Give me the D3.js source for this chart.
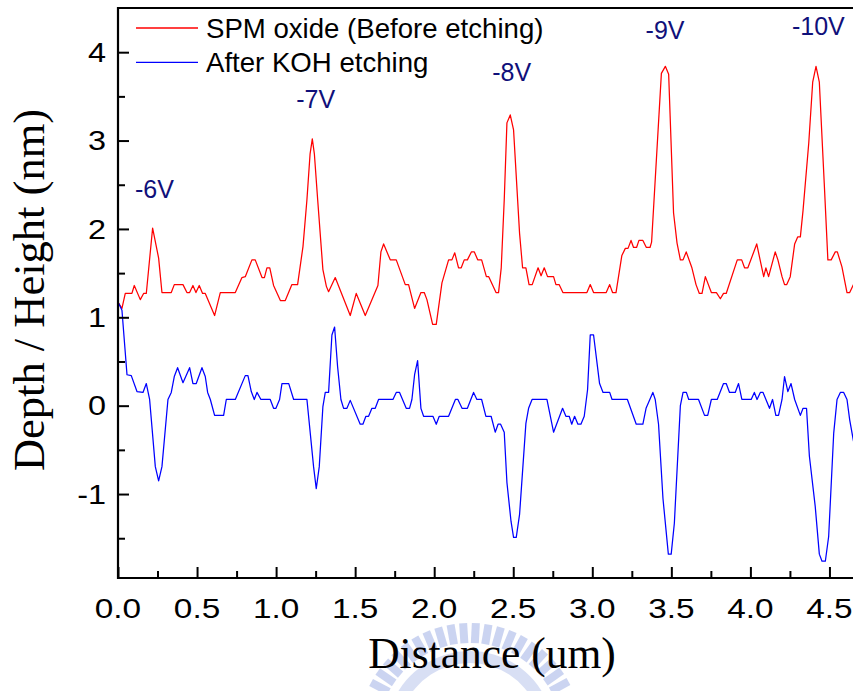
<!DOCTYPE html>
<html><head><meta charset="utf-8">
<script src="https://cdn.jsdelivr.net/npm/d3@7"></script>
<style>html,body{margin:0;padding:0;background:#fff;overflow:hidden}</style>
</head><body><svg id="c" width="853" height="691"></svg>
<script>
// ---- data ----
const spmDistance = [0.004,0.025,0.046,0.088,0.103,0.141,0.162,0.179,0.219,0.257,0.278,0.337,0.356,0.411,0.436,0.453,0.474,0.493,0.514,0.535,0.552,0.611,0.647,0.742,0.784,0.805,0.847,0.868,0.911,0.926,0.942,0.960,0.984,1.027,1.058,1.100,1.136,1.170,1.195,1.215,1.229,1.242,1.263,1.296,1.318,1.332,1.374,1.469,1.507,1.564,1.644,1.663,1.680,1.722,1.760,1.817,1.838,1.876,1.916,1.937,1.954,1.990,2.013,2.049,2.091,2.112,2.130,2.154,2.171,2.190,2.210,2.235,2.254,2.275,2.300,2.330,2.345,2.391,2.407,2.424,2.443,2.460,2.481,2.502,2.540,2.559,2.580,2.600,2.620,2.657,2.676,2.696,2.717,2.755,2.770,2.790,2.814,2.966,2.987,3.008,3.088,3.110,3.128,3.150,3.187,3.209,3.226,3.245,3.261,3.280,3.295,3.320,3.342,3.365,3.375,3.437,3.462,3.483,3.514,3.536,3.557,3.574,3.594,3.630,3.656,3.677,3.694,3.715,3.753,3.785,3.810,3.830,3.847,3.917,3.945,3.963,3.984,4.040,4.084,4.098,4.115,4.157,4.174,4.200,4.216,4.230,4.252,4.280,4.299,4.316,4.333,4.369,4.394,4.415,4.436,4.467,4.490,4.511,4.537,4.550,4.579,4.611,4.628,4.652,4.680];
const spmHeight = [1.16,1.10,1.27,1.27,1.36,1.20,1.27,1.27,2.01,1.67,1.28,1.28,1.37,1.37,1.28,1.28,1.36,1.28,1.36,1.27,1.27,1.02,1.28,1.28,1.45,1.46,1.65,1.65,1.45,1.45,1.56,1.56,1.36,1.19,1.19,1.37,1.37,1.80,2.33,2.85,3.02,2.85,2.33,1.54,1.35,1.29,1.45,1.02,1.27,1.02,1.36,1.74,1.83,1.65,1.65,1.37,1.37,1.10,1.28,1.28,1.20,0.92,0.92,1.39,1.65,1.65,1.73,1.56,1.56,1.65,1.65,1.74,1.74,1.65,1.65,1.46,1.46,1.28,1.28,1.56,2.33,3.20,3.29,3.12,1.95,1.56,1.56,1.37,1.37,1.56,1.47,1.56,1.46,1.46,1.37,1.37,1.28,1.28,1.37,1.28,1.28,1.37,1.28,1.28,1.70,1.78,1.78,1.87,1.79,1.79,1.87,1.87,1.79,1.79,1.85,3.76,3.84,3.75,2.18,1.84,1.65,1.65,1.74,1.56,1.37,1.27,1.27,1.46,1.28,1.28,1.21,1.27,1.27,1.65,1.65,1.56,1.56,1.83,1.46,1.56,1.46,1.74,1.65,1.46,1.37,1.37,1.46,1.83,1.91,1.91,2.21,2.97,3.66,3.84,3.66,2.52,1.65,1.65,1.74,1.74,1.57,1.28,1.28,1.37,1.40];

const kohDistance = [0.004,0.025,0.057,0.084,0.120,0.158,0.179,0.200,0.236,0.257,0.278,0.316,0.337,0.356,0.377,0.411,0.453,0.474,0.495,0.531,0.552,0.567,0.584,0.611,0.668,0.685,0.742,0.805,0.822,0.843,0.862,0.879,0.904,0.963,0.984,0.999,1.022,1.037,1.080,1.111,1.195,1.237,1.254,1.273,1.296,1.311,1.332,1.353,1.370,1.389,1.410,1.427,1.448,1.469,1.532,1.549,1.568,1.585,1.606,1.627,1.648,1.739,1.760,1.781,1.823,1.844,1.859,1.876,1.895,1.916,1.933,1.992,2.013,2.032,2.091,2.134,2.150,2.176,2.210,2.249,2.270,2.300,2.327,2.360,2.386,2.404,2.420,2.443,2.460,2.486,2.502,2.519,2.540,2.580,2.597,2.619,2.713,2.755,2.812,2.833,2.854,2.870,2.888,2.909,2.928,2.949,2.970,2.987,3.008,3.046,3.068,3.110,3.125,3.222,3.278,3.320,3.340,3.383,3.398,3.419,3.447,3.481,3.499,3.519,3.557,3.574,3.595,3.610,3.672,3.710,3.730,3.753,3.790,3.830,3.847,3.868,3.904,3.925,3.946,4.005,4.025,4.042,4.063,4.080,4.121,4.140,4.161,4.178,4.200,4.216,4.237,4.257,4.280,4.316,4.333,4.355,4.373,4.410,4.436,4.453,4.474,4.495,4.527,4.548,4.569,4.590,4.611,4.628,4.652,4.680];
const kohHeight = [1.16,1.08,0.35,0.34,0.16,0.15,0.25,0.07,-0.69,-0.85,-0.69,0.07,0.15,0.33,0.43,0.26,0.43,0.25,0.25,0.43,0.33,0.15,0.07,-0.11,-0.11,0.07,0.07,0.34,0.34,0.16,0.07,0.15,0.07,0.07,-0.03,-0.03,0.07,0.25,0.25,0.07,0.07,-0.69,-0.94,-0.69,-0.01,0.15,0.15,0.80,0.89,0.44,0.07,-0.03,-0.03,0.06,-0.21,-0.21,-0.12,-0.12,-0.03,-0.03,0.07,0.07,0.15,0.15,-0.03,-0.03,0.07,0.35,0.51,-0.03,-0.12,-0.12,-0.21,-0.12,-0.12,0.07,0.07,-0.03,-0.03,0.15,0.07,0.07,-0.12,-0.12,-0.30,-0.21,-0.21,-0.30,-0.87,-1.31,-1.49,-1.49,-1.23,-0.20,-0.03,0.07,0.07,-0.30,-0.03,-0.12,-0.12,-0.21,-0.12,-0.21,-0.21,-0.12,0.18,0.80,0.80,0.25,0.15,0.15,0.07,0.07,-0.21,-0.21,-0.03,0.15,0.07,-0.21,-1.05,-1.68,-1.68,-1.33,0.00,0.15,0.15,0.07,0.07,-0.11,-0.11,0.07,0.07,0.25,0.25,0.15,0.15,0.25,0.07,0.07,0.15,0.07,0.15,0.15,-0.03,0.07,-0.11,-0.11,0.07,0.33,0.16,0.25,0.07,-0.11,-0.03,-0.03,-0.57,-1.14,-1.68,-1.76,-1.76,-1.48,-0.31,0.07,0.15,0.15,0.07,-0.16,-0.40,-0.55];

const seriesNames = ["SPM oxide (Before etching)", "After KOH etching"];
const seriesColors = ["#ff0000", "#0000ff"];
const voltLabels = ["-6V","-7V","-8V","-9V","-10V"];
const voltPosX = [0.23, 1.25, 2.49, 3.46, 4.43];
const voltPosY = [2.35, 3.37, 3.67, 4.15, 4.19];
const xTickValues = [0,0.5,1,1.5,2,2.5,3,3.5,4,4.5];
const yTickValues = [-1,0,1,2,3,4];
const xTitle = "Distance (um)";
const yTitle = "Depth / Height (nm)";

// ---- layout ----
const svg = d3.select("#c");
const L = 118, T = 8, B = 578, R = 853;
const x = d3.scaleLinear().domain([0, 4.7]).range([L, L + 4.7*158.1]);
const y = d3.scaleLinear().domain([-1.95, 4.5]).range([B, T]);

svg.append("defs").append("clipPath").attr("id","clip")
  .append("rect").attr("x",L).attr("y",T).attr("width",R-L+5).attr("height",B-T);

// watermark (faint logo arc behind the x title)
const wm = svg.append("g").attr("opacity",0.4);
const wmc = [470, 735], wmr = 100;
d3.range(-62, 63, 6.5).forEach(a => {
  const rad = (a-90)*Math.PI/180;
  wm.append("rect").attr("x",-4).attr("y",-12).attr("width",8).attr("height",20)
    .attr("fill","#7f95dd")
    .attr("transform",`translate(${wmc[0]+wmr*Math.cos(rad)},${wmc[1]+wmr*Math.sin(rad)}) rotate(${a})`);
});
wm.append("path").attr("d", d3.arc()({innerRadius:72, outerRadius:84, startAngle:-1.15, endAngle:1.15}))
  .attr("transform",`translate(${wmc[0]},${wmc[1]})`).attr("fill","#9fb0e6");

// data lines
const line = d3.line().x(d=>x(d[0])).y(d=>y(d[1]));
const g = svg.append("g").attr("clip-path","url(#clip)");
g.append("path").datum(d3.zip(spmDistance, spmHeight)).attr("d", line)
  .attr("fill","none").attr("stroke",seriesColors[0]).attr("stroke-width",1.25).attr("stroke-linejoin","round");
g.append("path").datum(d3.zip(kohDistance, kohHeight)).attr("d", line)
  .attr("fill","none").attr("stroke",seriesColors[1]).attr("stroke-width",1.25).attr("stroke-linejoin","round");

// axes (ticks pointing inward)
const xAxis = d3.axisBottom(x).tickValues(xTickValues).tickSizeInner(-11).tickSizeOuter(0).tickFormat("");
const xMinor = d3.axisBottom(x).tickValues(xTickValues.map(v=>v+0.25)).tickSizeInner(-7).tickSizeOuter(0).tickFormat("");
const yAxis = d3.axisLeft(y).tickValues(yTickValues).tickSizeInner(-11).tickSizeOuter(0).tickFormat("");
const yMinor = d3.axisLeft(y).tickValues([-1.5,-0.5,0.5,1.5,2.5,3.5]).tickSizeInner(-7).tickSizeOuter(0).tickFormat("");
[[xAxis,`translate(0,${B})`],[xMinor,`translate(0,${B})`],[yAxis,`translate(${L},0)`],[yMinor,`translate(${L},0)`]].forEach(([ax,tr])=>{
  const a = svg.append("g").attr("transform",tr).call(ax);
  a.selectAll(".domain").remove();
  a.selectAll("line").attr("stroke","#000").attr("stroke-width",2);
});
svg.append("line").attr("x1",L).attr("x2",L).attr("y1",T-1).attr("y2",B+1).attr("stroke","#000").attr("stroke-width",2.2);
svg.append("line").attr("x1",L-1).attr("x2",R).attr("y1",B).attr("y2",B).attr("stroke","#000").attr("stroke-width",2.2);
svg.append("line").attr("x1",L-1).attr("x2",R).attr("y1",T).attr("y2",T).attr("stroke","#000").attr("stroke-width",2.2);

// tick labels (slightly wide glyphs, as in the reference)
function wideText(sel, factor){
  sel.each(function(){
    const w = this.getComputedTextLength();
    d3.select(this).attr("textLength", w*factor).attr("lengthAdjust","spacingAndGlyphs");
  });
}
const xl = svg.append("g").selectAll("text").data(xTickValues).join("text")
  .attr("x", d=>x(d)).attr("y", 618).attr("text-anchor","middle")
  .attr("font-family","Liberation Sans, Arial, sans-serif").attr("font-size",28.5)
  .text(d=>d3.format(".1f")(d));
wideText(xl, 1.17);
const yl = svg.append("g").selectAll("text").data(yTickValues).join("text")
  .attr("x", 106).attr("y", d=>y(d)+9.8).attr("text-anchor","end")
  .attr("font-family","Liberation Sans, Arial, sans-serif").attr("font-size",27)
  .text(d=>d);
wideText(yl, 1.2);

// axis titles
svg.append("text").attr("x",492).attr("y",668).attr("text-anchor","middle")
  .attr("font-family","Liberation Serif, Times New Roman, serif").attr("font-size",43.5).text(xTitle);
svg.append("text").attr("transform","translate(43.5,290) rotate(-90)").attr("text-anchor","middle")
  .attr("font-family","Liberation Serif, Times New Roman, serif").attr("font-size",44.5).text(yTitle);

// legend
const leg = svg.append("g");
seriesNames.forEach((n,i)=>{
  const ly = 28 + i*34.3;
  leg.append("line").attr("x1",136).attr("x2",198).attr("y1",ly).attr("y2",ly)
    .attr("stroke",seriesColors[i]).attr("stroke-width",1.3);
  leg.append("text").attr("x",206).attr("y",ly+9.8)
    .attr("font-family","Liberation Sans, Arial, sans-serif").attr("font-size",27.6).text(n);
});

// voltage annotations
svg.append("g").selectAll("text").data(voltLabels).join("text")
  .attr("x",(d,i)=>x(voltPosX[i])).attr("y",(d,i)=>y(voltPosY[i]))
  .attr("text-anchor","middle").attr("fill","#10107a")
  .attr("font-family","Liberation Sans, Arial, sans-serif").attr("font-size",25)
  .text(d=>d);
</script></body></html>
